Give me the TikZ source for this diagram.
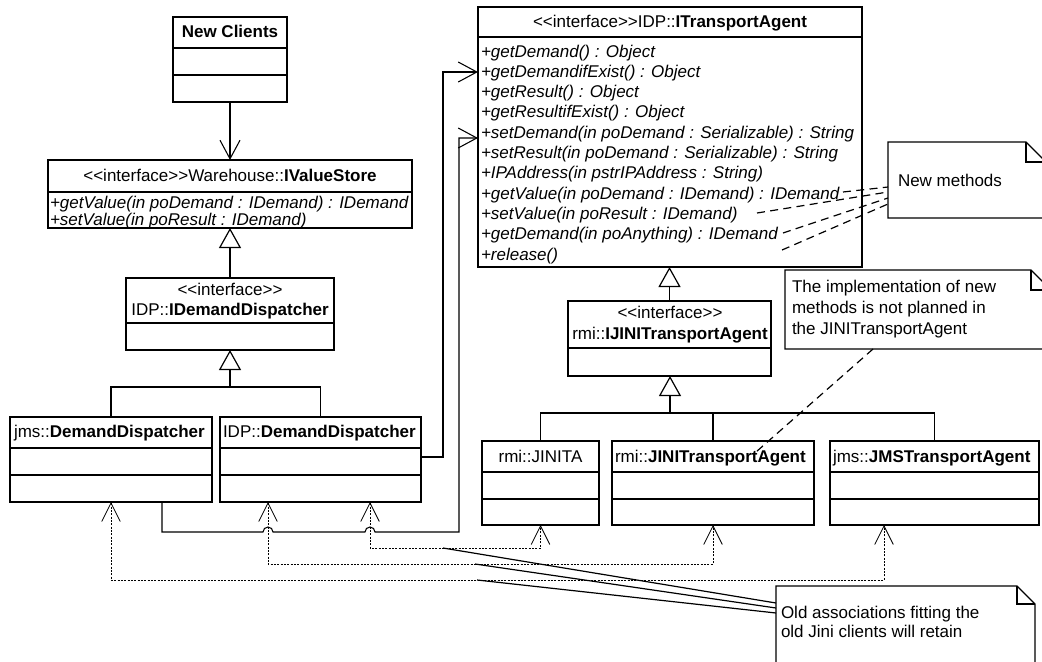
\documentclass[tikz,border=0pt]{standalone}
\usepackage{fontspec}
\setmainfont{Liberation Sans}
\usetikzlibrary{arrows.meta,fit}

\newcommand\umlfont{\fontsize{12.75pt}{15pt}\selectfont}
% stereotype brackets, kept as two plain "<" and ">" characters
\newcommand\stereo[1]{<\kern0pt<#1>\kern0pt>}

\tikzset{
  every node/.style={inner sep=0pt, outer sep=0pt},
  umlbox/.style={draw, line width=1.3pt, inner sep=0pt},
  sepline/.style={line width=1.2pt},
  lbl/.style={anchor=base, font=\umlfont},
  lblw/.style={anchor=base west, font=\umlfont},
  op/.style={anchor=base west, font=\umlfont\itshape},
  navarrow/.style={line width=0.8pt, -{Straight Barb[length=14pt,width=15pt,line width=0.8pt]}},
  genarrow/.style={line width=0.8pt, -{Triangle[open,length=15pt,width=16.5pt,line width=0.9pt]}},
  genline/.style={line width=0.8pt},
  depline/.style={line width=0.6pt, dash pattern=on 1.5pt off 1pt,
    {Straight Barb[length=14pt,width=14pt,line width=0.6pt]}-{Straight Barb[length=14pt,width=14pt,line width=0.6pt]}},
  noteshape/.style={line width=1pt, line join=miter},
  notelink/.style={line width=0.9pt},
  commentlink/.style={line width=0.9pt, dash pattern=on 6pt off 4pt},
}

% class rectangle: name, x1, y1, x2, y2, compartment separators (y values)
\newcommand\classbox[6]{%
  \node[umlbox, fit={(#2,#3) (#4,#5)}] (#1) {};
  \foreach \s in {#6}{\draw[sepline] (#1.west |- 0,\s) -- (#1.east |- 0,\s);}%
}
% note with folded corner: name, x1, y1, x2, y2, fold size
\newcommand\notebox[6]{%
  \node[fit={(#2,#3) (#4,#5)}] (#1) {};
  \draw[noteshape] (#2,#5) -- (#2,#3) -- (#4-#6,#3) -- (#4,#3+#6) -- (#4,#5) -- cycle;
  \draw[noteshape] (#4-#6,#3) -- (#4-#6,#3+#6) -- (#4,#3+#6);
}

\begin{document}
\begin{tikzpicture}[x=0.75pt, y=-0.75pt]
\useasboundingbox (0,0) rectangle (1042,661);
\clip (0,0) rectangle (1042,661);
\fill[white] (0,0) rectangle (1042,661);

% ---------------- left column ----------------
\classbox{nc}{173}{17}{287}{102}{48,75}
\node[lbl, font=\umlfont\bfseries] (nc-name) at (230,37) {New Clients};

\classbox{ivs}{48}{160}{412}{228}{192}
\node[lbl] (ivs-name) at (230,181) {\stereo{interface}Warehouse::\textbf{IValueStore}};
\node[op] (ivs-op1) at (50,208) {+getValue(in poDemand : IDemand) : IDemand};
\node[op] (ivs-op2) at (50,225) {+setValue(in poResult : IDemand)};

\classbox{idd}{126}{278}{334}{350}{323}
\node[lbl] (idd-st) at (230,295) {\stereo{interface}};
\node[lbl] (idd-name) at (230,315) {IDP::\textbf{IDemandDispatcher}};

\classbox{jdd}{10}{417}{212}{502}{448,475}
\node[lblw] (jdd-name) at (14,437) {jms::\textbf{DemandDispatcher}};
\classbox{pdd}{220}{417}{421}{502}{448,475}
\node[lblw] (pdd-name) at (223,437) {IDP::\textbf{DemandDispatcher}};

% ---------------- right column ----------------
\classbox{ita}{478}{7}{862}{267}{37}
\node[lbl] (ita-name) at (670,27) {\stereo{interface}IDP::\textbf{ITransportAgent}};
\foreach \i/\t in {
  0/{+getDemand() : Object},
  1/{+getDemandifExist() : Object},
  2/{+getResult() : Object},
  3/{+getResultifExist() : Object},
  4/{+setDemand(in poDemand : Serializable) : String},
  5/{+setResult(in poDemand : Serializable) : String},
  6/{+IPAddress(in pstrIPAddress : String)},
  7/{+getValue(in poDemand : IDemand) : IDemand},
  8/{+setValue(in poResult : IDemand)},
  9/{+getDemand(in poAnything) : IDemand},
  10/{+release()}}
  \node[op] (ita-op\i) at (481,57+20.3*\i) {\t};

\classbox{iji}{568}{301}{771}{376}{348}
\node[lbl] (iji-st) at (670,318) {\stereo{interface}};
\node[lbl] (iji-name) at (670,339) {rmi::\textbf{IJINITransportAgent}};

\classbox{jta}{482}{441}{599}{525}{472,499}
\node[lbl] (jta-name) at (540.5,462) {rmi::JINITA};
\classbox{jtr}{612}{441}{814}{525}{472,499}
\node[lblw] (jtr-name) at (615,462) {rmi::\textbf{JINITransportAgent}};
\classbox{jms}{830}{441}{1039}{525}{472,499}
\node[lblw] (jms-name) at (833,462) {jms::\textbf{JMSTransportAgent}};

% ---------------- notes ----------------
\notebox{nm}{888}{142}{1046}{218}{20}
\node[lblw] (nm-text) at (898,186) {New methods};

\notebox{ni}{785}{270}{1051}{349}{20}
\node[lblw] (ni-l1) at (792,292) {The implementation of new};
\node[lblw] (ni-l2) at (792,313) {methods is not planned in};
\node[lblw] (ni-l3) at (792,334) {the JINITransportAgent};

\notebox{no}{776}{586}{1035}{672}{18}
\node[lblw] (no-l1) at (781,618) {Old associations fitting the};
\node[lblw] (no-l2) at (781,637) {old Jini clients will retain};

% ---------------- generalisations ----------------
\draw[navarrow] (nc.south) -- (ivs.north);
\draw[genarrow] (idd.north) -- (ivs.south);
\coordinate (idd-fork) at (230,387);
\draw[genarrow] (idd-fork) -- (idd.south);
\draw[genline] (jdd.north) |- (idd-fork) -| (pdd.north);

\draw[genarrow] (iji.north) -- (iji.north |- ita.south);
\coordinate (iji-fork) at (670,413);
\draw[genarrow] (iji-fork) -- (iji-fork |- iji.south);
\draw[genline] (jta.north) |- (iji-fork) -| (jms.north);
\draw[genline] (jtr.north) -- (jtr.north |- iji-fork);

% ---------------- associations to ITransportAgent ----------------
\draw[navarrow] (pdd.east |- 0,457) -| (443,72) -- (ita.west |- 0,72);
\draw[navarrow] (jdd.south -| 162,0) -- (162,532) -- (263,532)
  arc[start angle=180, end angle=0, radius=3.75pt] -- (365,532)
  arc[start angle=180, end angle=0, radius=3.75pt] -- (459,532)
  -- (459,138) -- (ita.west |- 0,138);

% ---------------- dependencies ----------------
\draw[depline] (jdd.south) |- (884,580) -- (jms.south -| 884,0);
\draw[depline] (pdd.south -| 268,0) |- (jtr.south |- 0,564) -- (jtr.south);
\draw[depline] (pdd.south -| 370,0) |- (jta.south |- 0,548) -- (jta.south);

% ---------------- note links ----------------
\coordinate (dep3-pt) at (443,548);
\coordinate (dep2-pt) at (475,564);
\coordinate (dep1-pt) at (477,580);
\draw[notelink] (dep3-pt) -- (no.west |- 0,603);
\draw[notelink] (dep2-pt) -- (no.west |- 0,608);
\draw[notelink] (dep1-pt) -- (no.west |- 0,613);

\coordinate (op7-end) at (843,192);
\coordinate (op8-end) at (757,213);
\coordinate (op9-end) at (783,233);
\coordinate (op10-end) at (782,250);
\draw[commentlink] (op7-end) -- (nm.west |- 0,187);
\draw[commentlink] (op8-end) -- (nm.west |- 0,192);
\draw[commentlink] (op9-end) -- (nm.west |- 0,198);
\draw[commentlink] (op10-end) -- (nm.west |- 0,204);

\coordinate (jtr-mark) at (756,452);
\draw[commentlink] (ni.south -| 873,0) -- (jtr-mark);
\end{tikzpicture}
\end{document}
